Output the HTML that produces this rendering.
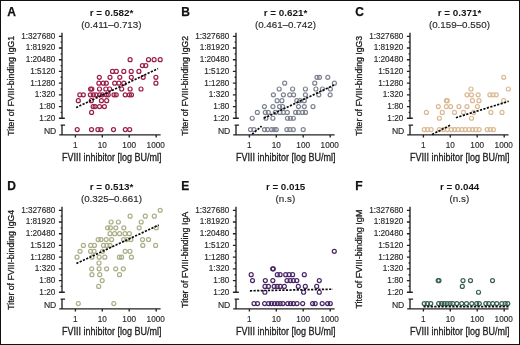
<!DOCTYPE html>
<html><head><meta charset="utf-8"><style>
html,body{margin:0;padding:0;background:#fff;}
body{width:520px;height:345px;overflow:hidden;}
svg{display:block;will-change:transform;font-family:"Liberation Sans",sans-serif;}
.lt{font-size:12px;font-weight:bold;fill:#111;stroke:#111;stroke-width:0.25px;}
.ti{font-size:9.8px;font-weight:bold;fill:#151515;text-anchor:middle;}
.sb{font-size:9.8px;fill:#2a2a2a;stroke:#2a2a2a;stroke-width:0.15px;text-anchor:middle;}
.yl{font-size:9.1px;fill:#222;stroke:#222;stroke-width:0.3px;text-anchor:middle;}
.tk{font-size:8.2px;fill:#2a2a2a;stroke:#2a2a2a;stroke-width:0.15px;}
.xl{font-size:10.1px;fill:#222;stroke:#222;stroke-width:0.3px;}
.ax{fill:none;stroke:#222;stroke-width:1.35;}
.rg{stroke:#0a0a0a;stroke-width:1.7;stroke-dasharray:2.2 1.4;}
</style></head><body>
<svg width="520" height="345" viewBox="0 0 520 345">
<rect x="0.5" y="0.5" width="519" height="344" fill="#fff" stroke="#111" stroke-width="1"/>
<text x="7.2" y="15.7" class="lt">A</text>
<text x="111.6" y="15.7" class="ti" textLength="43.6" lengthAdjust="spacingAndGlyphs">r = 0.582*</text>
<text x="111.4" y="27.8" class="sb">(0.411–0.713)</text>
<text transform="translate(14,85.8) rotate(-90)" x="0" y="0" class="yl" textLength="99.9" lengthAdjust="spacingAndGlyphs">Titer of FVIII-binding IgG1</text>
<text x="55.3" y="38.7" class="tk" text-anchor="end">1:327680</text>
<text x="55.3" y="50.41" class="tk" text-anchor="end">1:81920</text>
<text x="55.3" y="62.12" class="tk" text-anchor="end">1:20480</text>
<text x="55.3" y="73.83" class="tk" text-anchor="end">1:5120</text>
<text x="55.3" y="85.54" class="tk" text-anchor="end">1:1280</text>
<text x="55.3" y="97.25" class="tk" text-anchor="end">1:320</text>
<text x="55.3" y="108.96" class="tk" text-anchor="end">1:80</text>
<text x="55.3" y="120.67" class="tk" text-anchor="end">1:20</text>
<text x="56.3" y="133.9" class="tk" text-anchor="end" style="font-size:8.3px" textLength="12.4" lengthAdjust="spacingAndGlyphs">ND</text>
<text x="75.4" y="148" class="tk" text-anchor="middle">1</text>
<text x="102.3" y="148" class="tk" text-anchor="middle">10</text>
<text x="129.2" y="148" class="tk" text-anchor="middle">100</text>
<text x="155.7" y="148" class="tk" text-anchor="middle">1000</text>
<text x="111.7" y="161.4" class="xl" text-anchor="middle" textLength="99.6" lengthAdjust="spacingAndGlyphs">FVIII inhibitor [log BU/ml]</text>
<path d="M62 32.8V118.3M58.9 36.3H62M58.9 48.01H62M58.9 59.72H62M58.9 71.43H62M58.9 83.14H62M58.9 94.85H62M58.9 106.56H62M58.9 118.27H64.8M60.6 42.16H62M60.6 53.87H62M60.6 65.58H62M60.6 77.28H62M60.6 89H62M60.6 100.71H62M60.6 112.42H62M60.6 125.1H65.1M62 125.1V134.8M59.2 134.8H160.6M75.4 134.8V137.6M102.3 134.8V137.6M129.2 134.8V137.6M156.2 134.8V137.6" class="ax"/>
<g fill="none" stroke="#9a1e4a" stroke-width="1.2"><circle cx="130.1" cy="59.72" r="2.0"/><circle cx="148.5" cy="59.72" r="2.0"/><circle cx="154.1" cy="59.72" r="2.0"/><circle cx="160.2" cy="59.72" r="2.0"/><circle cx="142.4" cy="65.58" r="2.0"/><circle cx="145.8" cy="65.58" r="2.0"/><circle cx="112.5" cy="71.43" r="2.0"/><circle cx="116.3" cy="71.43" r="2.0"/><circle cx="123.8" cy="71.43" r="2.0"/><circle cx="131.2" cy="71.43" r="2.0"/><circle cx="138.9" cy="71.43" r="2.0"/><circle cx="99.3" cy="77.28" r="2.0"/><circle cx="110" cy="77.28" r="2.0"/><circle cx="119.8" cy="77.28" r="2.0"/><circle cx="131.3" cy="77.28" r="2.0"/><circle cx="143.2" cy="77.28" r="2.0"/><circle cx="155.9" cy="77.28" r="2.0"/><circle cx="98.9" cy="83.14" r="2.0"/><circle cx="103.3" cy="83.14" r="2.0"/><circle cx="106.3" cy="83.14" r="2.0"/><circle cx="114.7" cy="83.14" r="2.0"/><circle cx="118.9" cy="83.14" r="2.0"/><circle cx="123.8" cy="83.14" r="2.0"/><circle cx="155.9" cy="83.14" r="2.0"/><circle cx="90.6" cy="89" r="2.0"/><circle cx="91.8" cy="89" r="2.0"/><circle cx="99.5" cy="89" r="2.0"/><circle cx="105.8" cy="89" r="2.0"/><circle cx="109.6" cy="89" r="2.0"/><circle cx="121.7" cy="89" r="2.0"/><circle cx="130.1" cy="89" r="2.0"/><circle cx="141" cy="89" r="2.0"/><circle cx="79.8" cy="94.85" r="2.0"/><circle cx="83.3" cy="94.85" r="2.0"/><circle cx="90.4" cy="94.85" r="2.0"/><circle cx="93.3" cy="94.85" r="2.0"/><circle cx="96.1" cy="94.85" r="2.0"/><circle cx="99.6" cy="94.85" r="2.0"/><circle cx="102.4" cy="94.85" r="2.0"/><circle cx="106.3" cy="94.85" r="2.0"/><circle cx="108.2" cy="94.85" r="2.0"/><circle cx="114" cy="94.85" r="2.0"/><circle cx="116.2" cy="94.85" r="2.0"/><circle cx="125.2" cy="94.85" r="2.0"/><circle cx="129.4" cy="94.85" r="2.0"/><circle cx="131.5" cy="94.85" r="2.0"/><circle cx="78.3" cy="100.7" r="2.0"/><circle cx="91.3" cy="100.7" r="2.0"/><circle cx="101.4" cy="100.7" r="2.0"/><circle cx="106.7" cy="100.7" r="2.0"/><circle cx="93.1" cy="106.56" r="2.0"/><circle cx="95.1" cy="106.56" r="2.0"/><circle cx="99.5" cy="106.56" r="2.0"/><circle cx="104.4" cy="106.56" r="2.0"/><circle cx="91.6" cy="112.42" r="2.0"/><circle cx="77.2" cy="129.6" r="2.0"/><circle cx="91.5" cy="129.6" r="2.0"/><circle cx="97.9" cy="129.6" r="2.0"/><circle cx="101" cy="129.6" r="2.0"/><circle cx="113.5" cy="129.6" r="2.0"/><circle cx="125.3" cy="129.6" r="2.0"/><circle cx="129.7" cy="129.6" r="2.0"/></g>
<line x1="76.1" y1="107.6" x2="158" y2="68.6" class="rg"/>
<text x="181.2" y="15.7" class="lt">B</text>
<text x="285.6" y="15.7" class="ti" textLength="43.6" lengthAdjust="spacingAndGlyphs">r = 0.621*</text>
<text x="285.4" y="27.8" class="sb">(0.461–0.742)</text>
<text transform="translate(188,85.8) rotate(-90)" x="0" y="0" class="yl" textLength="99.9" lengthAdjust="spacingAndGlyphs">Titer of FVIII-binding IgG2</text>
<text x="229.3" y="38.7" class="tk" text-anchor="end">1:327680</text>
<text x="229.3" y="50.41" class="tk" text-anchor="end">1:81920</text>
<text x="229.3" y="62.12" class="tk" text-anchor="end">1:20480</text>
<text x="229.3" y="73.83" class="tk" text-anchor="end">1:5120</text>
<text x="229.3" y="85.54" class="tk" text-anchor="end">1:1280</text>
<text x="229.3" y="97.25" class="tk" text-anchor="end">1:320</text>
<text x="229.3" y="108.96" class="tk" text-anchor="end">1:80</text>
<text x="229.3" y="120.67" class="tk" text-anchor="end">1:20</text>
<text x="230.3" y="133.9" class="tk" text-anchor="end" style="font-size:8.3px" textLength="12.4" lengthAdjust="spacingAndGlyphs">ND</text>
<text x="249.4" y="148" class="tk" text-anchor="middle">1</text>
<text x="276.3" y="148" class="tk" text-anchor="middle">10</text>
<text x="303.2" y="148" class="tk" text-anchor="middle">100</text>
<text x="329.7" y="148" class="tk" text-anchor="middle">1000</text>
<text x="285.7" y="161.4" class="xl" text-anchor="middle" textLength="99.6" lengthAdjust="spacingAndGlyphs">FVIII inhibitor [log BU/ml]</text>
<path d="M236 32.8V118.3M232.9 36.3H236M232.9 48.01H236M232.9 59.72H236M232.9 71.43H236M232.9 83.14H236M232.9 94.85H236M232.9 106.56H236M232.9 118.27H238.8M234.6 42.16H236M234.6 53.87H236M234.6 65.58H236M234.6 77.28H236M234.6 89H236M234.6 100.71H236M234.6 112.42H236M234.6 125.1H239.1M236 125.1V134.8M233.2 134.8H334.6M249.4 134.8V137.6M276.3 134.8V137.6M303.2 134.8V137.6M330.2 134.8V137.6" class="ax"/>
<g fill="none" stroke="#7e8392" stroke-width="1.2"><circle cx="317" cy="77.28" r="2.0"/><circle cx="319.5" cy="77.28" r="2.0"/><circle cx="327.8" cy="77.28" r="2.0"/><circle cx="284.7" cy="83.14" r="2.0"/><circle cx="314.7" cy="83.14" r="2.0"/><circle cx="334.4" cy="83.14" r="2.0"/><circle cx="279.2" cy="89" r="2.0"/><circle cx="292.6" cy="89" r="2.0"/><circle cx="305.4" cy="89" r="2.0"/><circle cx="315.9" cy="89" r="2.0"/><circle cx="322.4" cy="89" r="2.0"/><circle cx="330.4" cy="89" r="2.0"/><circle cx="273.4" cy="94.85" r="2.0"/><circle cx="283.4" cy="94.85" r="2.0"/><circle cx="289.7" cy="94.85" r="2.0"/><circle cx="293.6" cy="94.85" r="2.0"/><circle cx="305.4" cy="94.85" r="2.0"/><circle cx="318.8" cy="94.85" r="2.0"/><circle cx="330.1" cy="94.85" r="2.0"/><circle cx="277.1" cy="100.7" r="2.0"/><circle cx="281.9" cy="100.7" r="2.0"/><circle cx="296.8" cy="100.7" r="2.0"/><circle cx="300" cy="100.7" r="2.0"/><circle cx="304.3" cy="100.7" r="2.0"/><circle cx="264.4" cy="106.56" r="2.0"/><circle cx="272.9" cy="106.56" r="2.0"/><circle cx="279.5" cy="106.56" r="2.0"/><circle cx="282.6" cy="106.56" r="2.0"/><circle cx="298.5" cy="106.56" r="2.0"/><circle cx="304.3" cy="106.56" r="2.0"/><circle cx="313" cy="106.56" r="2.0"/><circle cx="257.3" cy="112.42" r="2.0"/><circle cx="265.3" cy="112.42" r="2.0"/><circle cx="268.3" cy="112.42" r="2.0"/><circle cx="275.4" cy="112.42" r="2.0"/><circle cx="279.9" cy="112.42" r="2.0"/><circle cx="283.4" cy="112.42" r="2.0"/><circle cx="287.3" cy="112.42" r="2.0"/><circle cx="295.6" cy="112.42" r="2.0"/><circle cx="298.5" cy="112.42" r="2.0"/><circle cx="302.6" cy="112.42" r="2.0"/><circle cx="305.5" cy="112.42" r="2.0"/><circle cx="252.2" cy="118.27" r="2.0"/><circle cx="265.9" cy="118.27" r="2.0"/><circle cx="272.9" cy="118.27" r="2.0"/><circle cx="287.5" cy="118.27" r="2.0"/><circle cx="290.4" cy="118.27" r="2.0"/><circle cx="293.3" cy="118.27" r="2.0"/><circle cx="250.5" cy="129.6" r="2.0"/><circle cx="254" cy="129.6" r="2.0"/><circle cx="264.5" cy="129.6" r="2.0"/><circle cx="267.6" cy="129.6" r="2.0"/><circle cx="271.5" cy="129.6" r="2.0"/><circle cx="274.1" cy="129.6" r="2.0"/><circle cx="276.3" cy="129.6" r="2.0"/><circle cx="286.9" cy="129.6" r="2.0"/><circle cx="289.9" cy="129.6" r="2.0"/><circle cx="293.3" cy="129.6" r="2.0"/><circle cx="303.2" cy="129.6" r="2.0"/></g>
<line x1="252.1" y1="134.2" x2="261.6" y2="126.2" class="rg"/>
<line x1="263.9" y1="118.2" x2="333.9" y2="85.1" class="rg"/>
<text x="355.2" y="15.7" class="lt">C</text>
<text x="459.6" y="15.7" class="ti" textLength="43.6" lengthAdjust="spacingAndGlyphs">r = 0.371*</text>
<text x="459.4" y="27.8" class="sb">(0.159–0.550)</text>
<text transform="translate(362,85.8) rotate(-90)" x="0" y="0" class="yl" textLength="99.9" lengthAdjust="spacingAndGlyphs">Titer of FVIII-binding IgG3</text>
<text x="403.3" y="38.7" class="tk" text-anchor="end">1:327680</text>
<text x="403.3" y="50.41" class="tk" text-anchor="end">1:81920</text>
<text x="403.3" y="62.12" class="tk" text-anchor="end">1:20480</text>
<text x="403.3" y="73.83" class="tk" text-anchor="end">1:5120</text>
<text x="403.3" y="85.54" class="tk" text-anchor="end">1:1280</text>
<text x="403.3" y="97.25" class="tk" text-anchor="end">1:320</text>
<text x="403.3" y="108.96" class="tk" text-anchor="end">1:80</text>
<text x="403.3" y="120.67" class="tk" text-anchor="end">1:20</text>
<text x="404.3" y="133.9" class="tk" text-anchor="end" style="font-size:8.3px" textLength="12.4" lengthAdjust="spacingAndGlyphs">ND</text>
<text x="423.4" y="148" class="tk" text-anchor="middle">1</text>
<text x="450.3" y="148" class="tk" text-anchor="middle">10</text>
<text x="477.2" y="148" class="tk" text-anchor="middle">100</text>
<text x="503.7" y="148" class="tk" text-anchor="middle">1000</text>
<text x="459.7" y="161.4" class="xl" text-anchor="middle" textLength="99.6" lengthAdjust="spacingAndGlyphs">FVIII inhibitor [log BU/ml]</text>
<path d="M410 32.8V118.3M406.9 36.3H410M406.9 48.01H410M406.9 59.72H410M406.9 71.43H410M406.9 83.14H410M406.9 94.85H410M406.9 106.56H410M406.9 118.27H412.8M408.6 42.16H410M408.6 53.87H410M408.6 65.58H410M408.6 77.28H410M408.6 89H410M408.6 100.71H410M408.6 112.42H410M408.6 125.1H413.1M410 125.1V134.8M407.2 134.8H508.6M423.4 134.8V137.6M450.3 134.8V137.6M477.2 134.8V137.6M504.2 134.8V137.6" class="ax"/>
<g fill="none" stroke="#dbb892" stroke-width="1.2"><circle cx="503.7" cy="77.28" r="2.0"/><circle cx="471" cy="89" r="2.0"/><circle cx="508.3" cy="89" r="2.0"/><circle cx="467" cy="94.85" r="2.0"/><circle cx="471.5" cy="94.85" r="2.0"/><circle cx="478.1" cy="94.85" r="2.0"/><circle cx="489.9" cy="94.85" r="2.0"/><circle cx="492.9" cy="94.85" r="2.0"/><circle cx="496.3" cy="94.85" r="2.0"/><circle cx="446.4" cy="100.7" r="2.0"/><circle cx="447.3" cy="100.7" r="2.0"/><circle cx="472.5" cy="100.7" r="2.0"/><circle cx="479" cy="100.7" r="2.0"/><circle cx="503.7" cy="100.7" r="2.0"/><circle cx="438.3" cy="106.56" r="2.0"/><circle cx="446.3" cy="106.56" r="2.0"/><circle cx="450.6" cy="106.56" r="2.0"/><circle cx="458.9" cy="106.56" r="2.0"/><circle cx="467" cy="106.56" r="2.0"/><circle cx="477.4" cy="106.56" r="2.0"/><circle cx="426.4" cy="112.42" r="2.0"/><circle cx="442.3" cy="112.42" r="2.0"/><circle cx="454.5" cy="112.42" r="2.0"/><circle cx="463.5" cy="112.42" r="2.0"/><circle cx="473.6" cy="112.42" r="2.0"/><circle cx="490.9" cy="112.42" r="2.0"/><circle cx="502" cy="112.42" r="2.0"/><circle cx="439.4" cy="118.27" r="2.0"/><circle cx="471.5" cy="118.27" r="2.0"/><circle cx="424.2" cy="129.6" r="2.0"/><circle cx="427.5" cy="129.6" r="2.0"/><circle cx="431.1" cy="129.6" r="2.0"/><circle cx="439.3" cy="129.6" r="2.0"/><circle cx="443.4" cy="129.6" r="2.0"/><circle cx="447.5" cy="129.6" r="2.0"/><circle cx="451.3" cy="129.6" r="2.0"/><circle cx="454.7" cy="129.6" r="2.0"/><circle cx="458" cy="129.6" r="2.0"/><circle cx="461.9" cy="129.6" r="2.0"/><circle cx="465.3" cy="129.6" r="2.0"/><circle cx="469.1" cy="129.6" r="2.0"/><circle cx="472.5" cy="129.6" r="2.0"/><circle cx="475.8" cy="129.6" r="2.0"/><circle cx="479.2" cy="129.6" r="2.0"/><circle cx="487.2" cy="129.6" r="2.0"/><circle cx="490.3" cy="129.6" r="2.0"/><circle cx="493.4" cy="129.6" r="2.0"/></g>
<line x1="432.1" y1="134.5" x2="450.2" y2="125.2" class="rg"/>
<line x1="455.9" y1="117.7" x2="508.7" y2="101.3" class="rg"/>
<text x="7.2" y="189.7" class="lt">D</text>
<text x="111.6" y="189.7" class="ti" textLength="43.6" lengthAdjust="spacingAndGlyphs">r = 0.513*</text>
<text x="111.4" y="201.8" class="sb">(0.325–0.661)</text>
<text transform="translate(14,259.8) rotate(-90)" x="0" y="0" class="yl" textLength="99.9" lengthAdjust="spacingAndGlyphs">Titer of FVIII-binding IgG4</text>
<text x="55.3" y="212.7" class="tk" text-anchor="end">1:327680</text>
<text x="55.3" y="224.41" class="tk" text-anchor="end">1:81920</text>
<text x="55.3" y="236.12" class="tk" text-anchor="end">1:20480</text>
<text x="55.3" y="247.83" class="tk" text-anchor="end">1:5120</text>
<text x="55.3" y="259.54" class="tk" text-anchor="end">1:1280</text>
<text x="55.3" y="271.25" class="tk" text-anchor="end">1:320</text>
<text x="55.3" y="282.96" class="tk" text-anchor="end">1:80</text>
<text x="55.3" y="294.67" class="tk" text-anchor="end">1:20</text>
<text x="56.3" y="307.9" class="tk" text-anchor="end" style="font-size:8.3px" textLength="12.4" lengthAdjust="spacingAndGlyphs">ND</text>
<text x="75.4" y="322" class="tk" text-anchor="middle">1</text>
<text x="102.3" y="322" class="tk" text-anchor="middle">10</text>
<text x="129.2" y="322" class="tk" text-anchor="middle">100</text>
<text x="155.7" y="322" class="tk" text-anchor="middle">1000</text>
<text x="111.7" y="335.4" class="xl" text-anchor="middle" textLength="99.6" lengthAdjust="spacingAndGlyphs">FVIII inhibitor [log BU/ml]</text>
<path d="M62 206.8V292.3M58.9 210.3H62M58.9 222.01H62M58.9 233.72H62M58.9 245.43H62M58.9 257.14H62M58.9 268.85H62M58.9 280.56H62M58.9 292.27H64.8M60.6 216.16H62M60.6 227.87H62M60.6 239.57H62M60.6 251.28H62M60.6 263H62M60.6 274.71H62M60.6 286.42H62M60.6 299.1H65.1M62 299.1V308.8M59.2 308.8H160.6M75.4 308.8V311.6M102.3 308.8V311.6M129.2 308.8V311.6M156.2 308.8V311.6" class="ax"/>
<g fill="none" stroke="#abae86" stroke-width="1.2"><circle cx="160.2" cy="210.3" r="2.0"/><circle cx="130.1" cy="216.16" r="2.0"/><circle cx="145.3" cy="216.16" r="2.0"/><circle cx="154.3" cy="216.16" r="2.0"/><circle cx="111.1" cy="222.01" r="2.0"/><circle cx="118.4" cy="222.01" r="2.0"/><circle cx="141.2" cy="222.01" r="2.0"/><circle cx="107.6" cy="227.87" r="2.0"/><circle cx="110.4" cy="227.87" r="2.0"/><circle cx="115.8" cy="227.87" r="2.0"/><circle cx="123.8" cy="227.87" r="2.0"/><circle cx="139.2" cy="227.87" r="2.0"/><circle cx="156.3" cy="227.87" r="2.0"/><circle cx="110" cy="233.72" r="2.0"/><circle cx="114.6" cy="233.72" r="2.0"/><circle cx="119.6" cy="233.72" r="2.0"/><circle cx="125" cy="233.72" r="2.0"/><circle cx="129.3" cy="233.72" r="2.0"/><circle cx="98.2" cy="239.57" r="2.0"/><circle cx="101" cy="239.57" r="2.0"/><circle cx="106.2" cy="239.57" r="2.0"/><circle cx="111.6" cy="239.57" r="2.0"/><circle cx="123.6" cy="239.57" r="2.0"/><circle cx="127" cy="239.57" r="2.0"/><circle cx="130.9" cy="239.57" r="2.0"/><circle cx="142.5" cy="239.57" r="2.0"/><circle cx="148.5" cy="239.57" r="2.0"/><circle cx="83.4" cy="245.43" r="2.0"/><circle cx="90.7" cy="245.43" r="2.0"/><circle cx="94.4" cy="245.43" r="2.0"/><circle cx="103.5" cy="245.43" r="2.0"/><circle cx="107" cy="245.43" r="2.0"/><circle cx="110" cy="245.43" r="2.0"/><circle cx="142.8" cy="245.43" r="2.0"/><circle cx="155.6" cy="245.43" r="2.0"/><circle cx="80" cy="251.28" r="2.0"/><circle cx="90.6" cy="251.28" r="2.0"/><circle cx="94.1" cy="251.28" r="2.0"/><circle cx="102.5" cy="251.28" r="2.0"/><circle cx="125.2" cy="251.28" r="2.0"/><circle cx="130" cy="251.28" r="2.0"/><circle cx="77" cy="257.14" r="2.0"/><circle cx="92" cy="257.14" r="2.0"/><circle cx="99.2" cy="257.14" r="2.0"/><circle cx="104.8" cy="257.14" r="2.0"/><circle cx="119.4" cy="257.14" r="2.0"/><circle cx="121.6" cy="257.14" r="2.0"/><circle cx="131.4" cy="257.14" r="2.0"/><circle cx="99" cy="263" r="2.0"/><circle cx="91.7" cy="268.85" r="2.0"/><circle cx="99.1" cy="268.85" r="2.0"/><circle cx="106.6" cy="268.85" r="2.0"/><circle cx="115.7" cy="268.85" r="2.0"/><circle cx="123.3" cy="268.85" r="2.0"/><circle cx="91.9" cy="274.7" r="2.0"/><circle cx="99.7" cy="274.7" r="2.0"/><circle cx="119.5" cy="274.7" r="2.0"/><circle cx="102.2" cy="280.56" r="2.0"/><circle cx="98.7" cy="286.42" r="2.0"/><circle cx="78.3" cy="303.6" r="2.0"/><circle cx="113.8" cy="303.6" r="2.0"/></g>
<line x1="76.4" y1="263.5" x2="158.7" y2="225.1" class="rg"/>
<text x="181.2" y="189.7" class="lt">E</text>
<text x="285.6" y="189.7" class="ti" textLength="39.4" lengthAdjust="spacingAndGlyphs">r = 0.015</text>
<text x="285.4" y="201.8" class="sb">(n.s)</text>
<text transform="translate(188,259.8) rotate(-90)" x="0" y="0" class="yl" textLength="96.2" lengthAdjust="spacingAndGlyphs">Titer of FVIII-binding IgA</text>
<text x="229.3" y="212.7" class="tk" text-anchor="end">1:327680</text>
<text x="229.3" y="224.41" class="tk" text-anchor="end">1:81920</text>
<text x="229.3" y="236.12" class="tk" text-anchor="end">1:20480</text>
<text x="229.3" y="247.83" class="tk" text-anchor="end">1:5120</text>
<text x="229.3" y="259.54" class="tk" text-anchor="end">1:1280</text>
<text x="229.3" y="271.25" class="tk" text-anchor="end">1:320</text>
<text x="229.3" y="282.96" class="tk" text-anchor="end">1:80</text>
<text x="229.3" y="294.67" class="tk" text-anchor="end">1:20</text>
<text x="230.3" y="307.9" class="tk" text-anchor="end" style="font-size:8.3px" textLength="12.4" lengthAdjust="spacingAndGlyphs">ND</text>
<text x="249.4" y="322" class="tk" text-anchor="middle">1</text>
<text x="276.3" y="322" class="tk" text-anchor="middle">10</text>
<text x="303.2" y="322" class="tk" text-anchor="middle">100</text>
<text x="329.7" y="322" class="tk" text-anchor="middle">1000</text>
<text x="285.7" y="335.4" class="xl" text-anchor="middle" textLength="99.6" lengthAdjust="spacingAndGlyphs">FVIII inhibitor [log BU/ml]</text>
<path d="M236 206.8V292.3M232.9 210.3H236M232.9 222.01H236M232.9 233.72H236M232.9 245.43H236M232.9 257.14H236M232.9 268.85H236M232.9 280.56H236M232.9 292.27H238.8M234.6 216.16H236M234.6 227.87H236M234.6 239.57H236M234.6 251.28H236M234.6 263H236M234.6 274.71H236M234.6 286.42H236M234.6 299.1H239.1M236 299.1V308.8M233.2 308.8H334.6M249.4 308.8V311.6M276.3 308.8V311.6M303.2 308.8V311.6M330.2 308.8V311.6" class="ax"/>
<g fill="none" stroke="#4a2768" stroke-width="1.2"><circle cx="334.3" cy="251.28" r="2.0"/><circle cx="272.7" cy="268.85" r="2.0"/><circle cx="273.3" cy="268.85" r="2.0"/><circle cx="251.2" cy="274.7" r="2.0"/><circle cx="277.3" cy="274.7" r="2.0"/><circle cx="280.1" cy="274.7" r="2.0"/><circle cx="285.7" cy="274.7" r="2.0"/><circle cx="289.1" cy="274.7" r="2.0"/><circle cx="292.6" cy="274.7" r="2.0"/><circle cx="304.3" cy="274.7" r="2.0"/><circle cx="252.5" cy="280.56" r="2.0"/><circle cx="265.3" cy="280.56" r="2.0"/><circle cx="272.8" cy="280.56" r="2.0"/><circle cx="287" cy="280.56" r="2.0"/><circle cx="290.2" cy="280.56" r="2.0"/><circle cx="293.3" cy="280.56" r="2.0"/><circle cx="296.8" cy="280.56" r="2.0"/><circle cx="319.3" cy="280.56" r="2.0"/><circle cx="265" cy="286.42" r="2.0"/><circle cx="268.4" cy="286.42" r="2.0"/><circle cx="274.2" cy="286.42" r="2.0"/><circle cx="277.2" cy="286.42" r="2.0"/><circle cx="280.1" cy="286.42" r="2.0"/><circle cx="284.3" cy="286.42" r="2.0"/><circle cx="298.3" cy="286.42" r="2.0"/><circle cx="305.3" cy="286.42" r="2.0"/><circle cx="316.7" cy="286.42" r="2.0"/><circle cx="264.9" cy="292.27" r="2.0"/><circle cx="303.6" cy="292.27" r="2.0"/><circle cx="319.3" cy="292.27" r="2.0"/><circle cx="254" cy="303.6" r="2.0"/><circle cx="257.5" cy="303.6" r="2.0"/><circle cx="264.6" cy="303.6" r="2.0"/><circle cx="268.5" cy="303.6" r="2.0"/><circle cx="271.4" cy="303.6" r="2.0"/><circle cx="274.4" cy="303.6" r="2.0"/><circle cx="277.3" cy="303.6" r="2.0"/><circle cx="280.1" cy="303.6" r="2.0"/><circle cx="282.9" cy="303.6" r="2.0"/><circle cx="287.7" cy="303.6" r="2.0"/><circle cx="290.6" cy="303.6" r="2.0"/><circle cx="293.4" cy="303.6" r="2.0"/><circle cx="297" cy="303.6" r="2.0"/><circle cx="302.7" cy="303.6" r="2.0"/><circle cx="312.6" cy="303.6" r="2.0"/><circle cx="315.2" cy="303.6" r="2.0"/><circle cx="322.2" cy="303.6" r="2.0"/><circle cx="327.6" cy="303.6" r="2.0"/><circle cx="330.3" cy="303.6" r="2.0"/></g>
<line x1="249.9" y1="290.8" x2="332.9" y2="289.2" class="rg"/>
<text x="355.2" y="189.7" class="lt">F</text>
<text x="459.6" y="189.7" class="ti" textLength="39.4" lengthAdjust="spacingAndGlyphs">r = 0.044</text>
<text x="459.4" y="201.8" class="sb">(n.s)</text>
<text transform="translate(362,259.1) rotate(-90)" x="0" y="0" class="yl" textLength="99.0" lengthAdjust="spacingAndGlyphs">Titer of FVIII-binding IgM</text>
<text x="403.3" y="212.7" class="tk" text-anchor="end">1:327680</text>
<text x="403.3" y="224.41" class="tk" text-anchor="end">1:81920</text>
<text x="403.3" y="236.12" class="tk" text-anchor="end">1:20480</text>
<text x="403.3" y="247.83" class="tk" text-anchor="end">1:5120</text>
<text x="403.3" y="259.54" class="tk" text-anchor="end">1:1280</text>
<text x="403.3" y="271.25" class="tk" text-anchor="end">1:320</text>
<text x="403.3" y="282.96" class="tk" text-anchor="end">1:80</text>
<text x="403.3" y="294.67" class="tk" text-anchor="end">1:20</text>
<text x="404.3" y="307.9" class="tk" text-anchor="end" style="font-size:8.3px" textLength="12.4" lengthAdjust="spacingAndGlyphs">ND</text>
<text x="423.4" y="322" class="tk" text-anchor="middle">1</text>
<text x="450.3" y="322" class="tk" text-anchor="middle">10</text>
<text x="477.2" y="322" class="tk" text-anchor="middle">100</text>
<text x="503.7" y="322" class="tk" text-anchor="middle">1000</text>
<text x="459.7" y="335.4" class="xl" text-anchor="middle" textLength="99.6" lengthAdjust="spacingAndGlyphs">FVIII inhibitor [log BU/ml]</text>
<path d="M410 206.8V292.3M406.9 210.3H410M406.9 222.01H410M406.9 233.72H410M406.9 245.43H410M406.9 257.14H410M406.9 268.85H410M406.9 280.56H410M406.9 292.27H412.8M408.6 216.16H410M408.6 227.87H410M408.6 239.57H410M408.6 251.28H410M408.6 263H410M408.6 274.71H410M408.6 286.42H410M408.6 299.1H413.1M410 299.1V308.8M407.2 308.8H508.6M423.4 308.8V311.6M450.3 308.8V311.6M477.2 308.8V311.6M504.2 308.8V311.6" class="ax"/>
<g fill="none" stroke="#37604f" stroke-width="1.2"><circle cx="438.2" cy="280.56" r="2.0"/><circle cx="439" cy="280.56" r="2.0"/><circle cx="463" cy="280.56" r="2.0"/><circle cx="470.5" cy="280.56" r="2.0"/><circle cx="492.5" cy="280.56" r="2.0"/><circle cx="462.3" cy="286.42" r="2.0"/><circle cx="478.5" cy="292.27" r="2.0"/><circle cx="424.2" cy="303.6" r="2.0"/><circle cx="427.3" cy="303.6" r="2.0"/><circle cx="430.8" cy="303.6" r="2.0"/><circle cx="438.7" cy="303.6" r="2.0"/><circle cx="441.6" cy="303.6" r="2.0"/><circle cx="444.2" cy="303.6" r="2.0"/><circle cx="447.1" cy="303.6" r="2.0"/><circle cx="450" cy="303.6" r="2.0"/><circle cx="452.8" cy="303.6" r="2.0"/><circle cx="456.8" cy="303.6" r="2.0"/><circle cx="461.7" cy="303.6" r="2.0"/><circle cx="466.5" cy="303.6" r="2.0"/><circle cx="471.8" cy="303.6" r="2.0"/><circle cx="476.7" cy="303.6" r="2.0"/><circle cx="479.3" cy="303.6" r="2.0"/><circle cx="485.8" cy="303.6" r="2.0"/><circle cx="488.8" cy="303.6" r="2.0"/><circle cx="492.7" cy="303.6" r="2.0"/><circle cx="496.8" cy="303.6" r="2.0"/><circle cx="501.9" cy="303.6" r="2.0"/><circle cx="505.2" cy="303.6" r="2.0"/><circle cx="507.8" cy="303.6" r="2.0"/></g>
<line x1="423.5" y1="306.6" x2="508.5" y2="306.6" class="rg"/>
</svg>
</body></html>
